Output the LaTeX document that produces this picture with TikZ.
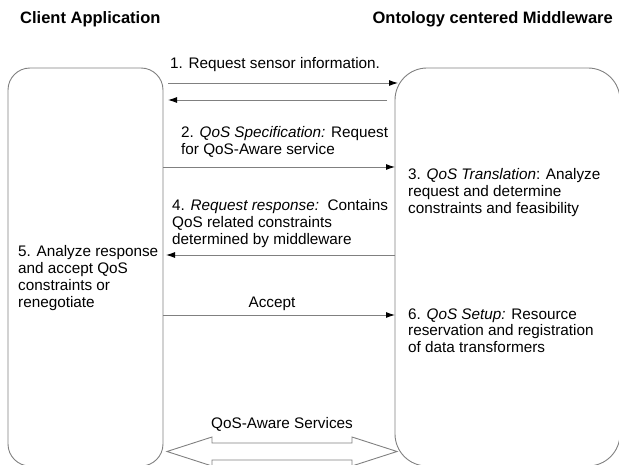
\documentclass[tikz,border=0pt]{standalone}
\usepackage{fontspec}
\setmainfont{Liberation Sans}
\usetikzlibrary{arrows.meta}
\usetikzlibrary{calc}

\definecolor{linegray}{RGB}{128,128,128}
\tikzset{
  side/.style={draw=linegray, line width=0.9pt, inner sep=0pt, outer sep=0pt},
  msg/.style={draw=linegray, line width=0.9pt, arrows={-Latex[length=9pt, width=6pt, color=black]}},
  lbl/.style={anchor=base west, align=left, inner sep=0pt, font=\fontsize{15.3}{16.8}\selectfont},
  heading/.style={anchor=base west, inner sep=0pt, font=\fontsize{16.5}{18}\selectfont\bfseries},
}

\begin{document}
\begin{tikzpicture}[x=1pt, y=-1pt]
    \useasboundingbox (0,0) rectangle (619,465);
    \node[heading] (clienttitle) at (20,24) {Client Application};
    \node[heading, anchor=base east] (mwtitle) at (613,24) {Ontology centered Middleware};
    \node[side, rounded corners=22pt, minimum width=155pt, minimum height=398pt] (client) at (85.5,267) {};
    \node[side, rounded corners=32pt, minimum width=225pt, minimum height=398pt] (mw) at (507.5,267) {};
    \coordinate (y1) at (0,83);
    \coordinate (y2) at (0,100);
    \coordinate (y3) at (0,167);
    \coordinate (y4) at (0,255);
    \coordinate (y5) at (0,315);
    \draw[msg] ($(client.east |- y1)+(5,0)$) -- ($(mw.west |- y1)+(3,0)$);
    \draw[msg] ($(mw.west |- y2)+(-8,0)$) -- ($(client.east |- y2)+(5,0)$);
    \draw[msg] (client.east |- y3) -- (mw.west |- y3);
    \draw[msg] (mw.west |- y4) -- ($(client.east |- y4)+(3,0)$);
    \draw[msg] (client.east |- y5) -- (mw.west |- y5);
    % base anchor sits on the last line
    \node[lbl] (req) at (170,69) {1. Request sensor information.};
    \node[lbl] (spec) at (181,154.8) {2. \textit{QoS Specification:} Request\\for QoS-Aware service};
    \node[lbl] (transl) at (408,213.6) {3. \textit{QoS Translation}: Analyze\\request and determine\\constraints and feasibility};
    \node[lbl] (resp) at (172,244.6) {4. \textit{Request response:}\ \ Contains\\QoS related constraints\\determined by middleware};
    \node[lbl] (analyze) at (18,307.4) {5. Analyze response\\and accept QoS\\constraints or\\renegotiate};
    \node[lbl, anchor=base] (accept) at (272,308) {Accept};
    \node[lbl] (setup) at (408,352.6) {6. \textit{QoS Setup:} Resource\\reservation and registration\\of data transformers};
    \node[lbl, anchor=base] (services) at (282,428) {QoS-Aware Services};
    % QoS-Aware Services
    \draw[line width=0.9pt, draw=linegray] (167,451.5) -- (212,437) -- (212,443) -- (352,443) -- (352,437)
        -- (397,451.5) -- (352,466) -- (352,460) -- (212,460) -- (212,466) -- cycle;
\end{tikzpicture}
\end{document}
